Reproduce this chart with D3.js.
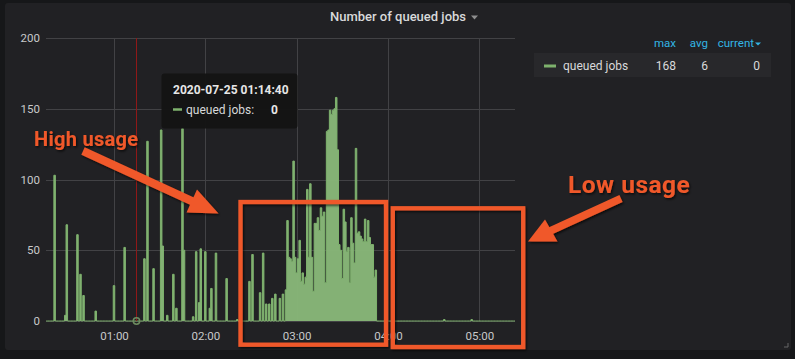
<!DOCTYPE html>
<html><head><meta charset="utf-8">
<script src="https://cdn.jsdelivr.net/npm/d3@7"></script>
<style>
html,body{margin:0;padding:0;background:#161719;}
svg{display:block;}
text{font-family:Roboto,"Noto Sans",sans-serif;}
</style></head><body>
<svg id="chart" width="795" height="359"></svg>
<script>
// ---------------- data ----------------
const day = "2020-07-25";
const chartTitle = "Number of queued jobs";
const yTicks = [0, 50, 100, 150, 200];
const xTickTimes = ["01:00", "02:00", "03:00", "04:00", "05:00"];
const spikeTimes = ["00:21","00:28","00:29","00:36","00:38","00:40","00:48","01:00","01:07","01:20",
  "01:22","01:26","01:31","01:32","01:35","01:39","01:41","01:45","01:46","01:52",
  "01:54","01:56","01:57","02:00","02:03","02:04","02:07","02:14","02:21","02:29",
  "02:31","02:36","02:38","02:40","02:42","02:44","02:46","02:49","02:51","04:37","04:55"];
const spikeValues = [103,4,68,61,33,18,7,25,52,44,
  127,37,135,53,4,33,9,136,50,3,
  49,13,51,49,9,23,48,30,1,28,
  47,20,48,12,12,16,19,16,19,1,1];
const burstStart = "02:53";   // one value per minute from here
const burstValues = [22,71,45,44,42,113,45,34,44,57,
  28,34,26,31,93,45,97,45,21,69,
  69,73,64,80,74,77,27,134,135,149,
  146,149,150,158,121,54,50,30,79,70,
  49,52,27,73,55,41,122,62,63,60,
  58,56,72,56,71,59,54,54,31,36,0];
const seriesName = "queued jobs";
const legendHeaders = ["max", "avg", "current"];
const legendValues = [168, 6, 0];
const hoverTime = "01:14:40";
const hoverValue = 0;
const annotationLabels = ["High usage", "Low usage"];

// ---------------- helpers ----------------
const parse = d3.timeParse("%Y-%m-%d %H:%M:%S");
const T = s => parse(day + " " + (s.length === 5 ? s + ":00" : s));

const valueAt = new Map();
spikeTimes.forEach((t, i) => valueAt.set(+T(t), spikeValues[i]));
const b0 = T(burstStart);
burstValues.forEach((v, i) => valueAt.set(+d3.timeMinute.offset(b0, i), v));
const grid = d3.timeMinute.range(T("00:14:00"), T("05:26:00"));
const series = grid.map(d => ({t: d, v: valueAt.has(+d) ? valueAt.get(+d) : 0}));

// ---------------- layout ----------------
const plot = {left: 46, right: 515, top: 38, bottom: 321};
const x = d3.scaleTime().domain([T("00:15:20"), T("05:23:27")]).range([plot.left, plot.right]);
const y = d3.scaleLinear().domain([0, 200]).range([plot.bottom, plot.top]);

const GREEN = "#7eb26d", FILL = "#87b678", ORANGE = "#f0592a";
const svg = d3.select("#chart");

const defs = svg.append("defs");
defs.append("clipPath").attr("id", "clip").append("rect")
  .attr("x", plot.left).attr("y", plot.top - 2).attr("width", plot.right - plot.left).attr("height", plot.bottom - plot.top + 3);
const f = defs.append("filter").attr("id", "shadow").attr("x", "-20%").attr("y", "-20%").attr("width", "140%").attr("height", "140%");
f.append("feDropShadow").attr("dx", 1.2).attr("dy", 1.5).attr("stdDeviation", 1).attr("flood-color", "#000").attr("flood-opacity", 0.7);

// panel
svg.append("rect").attr("x", 5).attr("y", 3).attr("width", 786).attr("height", 347).attr("rx", 3).attr("fill", "#212124");

// title
svg.append("text").attr("x", 330).attr("y", 21).attr("fill", "#d8d9da")
  .attr("font-size", 13).attr("font-weight", 500).text(chartTitle);
svg.append("path").attr("d", "M471,15.5 L478,15.5 L474.5,19.5 Z").attr("fill", "#8e8e8e");

// grid
svg.append("g").selectAll("line").data(yTicks).join("line")
  .attr("x1", plot.left).attr("x2", plot.right)
  .attr("y1", d => Math.round(y(d)) + 0.5).attr("y2", d => Math.round(y(d)) + 0.5)
  .attr("stroke", "#424245").attr("stroke-width", 1);
svg.append("g").selectAll("line").data(xTickTimes).join("line")
  .attr("y1", plot.top).attr("y2", plot.bottom)
  .attr("x1", d => Math.round(x(T(d))) + 0.5).attr("x2", d => Math.round(x(T(d))) + 0.5)
  .attr("stroke", "#424245").attr("stroke-width", 1);

// axes labels via d3 axes
const yAxis = svg.append("g").attr("transform", `translate(${plot.left - 6},0)`)
  .call(d3.axisLeft(y).tickValues(yTicks).tickSize(0).tickPadding(0));
const xAxis = svg.append("g").attr("transform", `translate(0,${plot.bottom + 4})`)
  .call(d3.axisBottom(x).tickValues(xTickTimes.map(T)).tickFormat(d3.timeFormat("%H:%M")).tickSize(0).tickPadding(7));
[yAxis, xAxis].forEach(a => {
  a.select(".domain").remove();
  a.selectAll("text").attr("fill", "#c8c9ca").attr("font-size", 11.5).attr("font-family", "Roboto, sans-serif");
});

// series
const g = svg.append("g").attr("clip-path", "url(#clip)");
g.append("path").datum(series)
  .attr("d", d3.area().curve(d3.curveStep).x(d => x(d.t)).y0(y(0)).y1(d => y(d.v)))
  .attr("fill", FILL).attr("fill-opacity", 0.97);
g.append("path").datum(series)
  .attr("d", d3.line().curve(d3.curveStep).x(d => x(d.t)).y(d => y(d.v)))
  .attr("fill", "none").attr("stroke", GREEN).attr("stroke-width", 1);

// crosshair
const hx = Math.round(x(T(hoverTime))) + 0.5;
svg.append("line").attr("x1", hx).attr("x2", hx).attr("y1", plot.top).attr("y2", plot.bottom)
  .attr("stroke", "#8f1818").attr("stroke-width", 1);
svg.append("circle").attr("cx", hx).attr("cy", y(hoverValue)).attr("r", 3.2)
  .attr("fill", "none").attr("stroke", "#6d8c5f").attr("stroke-width", 1.5);

// tooltip
const tip = svg.append("g");
tip.append("rect").attr("x", 161.5).attr("y", 73.5).attr("width", 136).attr("height", 55).attr("rx", 3)
  .attr("fill", "#141414").attr("fill-opacity", 0.97);
tip.append("text").attr("x", 173).attr("y", 93.5).attr("fill", "#e6e6e6").attr("font-size", 12).attr("font-weight", 700)
  .text(day + " " + hoverTime);
tip.append("line").attr("x1", 173).attr("x2", 182).attr("y1", 109.5).attr("y2", 109.5).attr("stroke", GREEN).attr("stroke-width", 2.5);
tip.append("text").attr("x", 186).attr("y", 113.5).attr("fill", "#d8d9da").attr("font-size", 12).text(seriesName + ":");
tip.append("text").attr("x", 278).attr("y", 113.5).attr("text-anchor", "end").attr("fill", "#e6e6e6")
  .attr("font-size", 12).attr("font-weight", 700).text(hoverValue);

// legend
const colRight = [676, 708, 754];
const valRight = [676, 708, 760];
const lg = svg.append("g");
lg.selectAll("text.h").data(legendHeaders).join("text").attr("class", "h")
  .attr("x", (d, i) => colRight[i]).attr("y", 47).attr("text-anchor", "end")
  .attr("fill", "#33b5e5").attr("font-size", 11.5).text(d => d);
lg.append("path").attr("d", "M755,42.5 L761,42.5 L758,45.5 Z").attr("fill", "#33b5e5");
lg.append("rect").attr("x", 534).attr("y", 53).attr("width", 237).attr("height", 24).attr("fill", "#28282b");
lg.append("line").attr("x1", 544).attr("x2", 556).attr("y1", 66).attr("y2", 66).attr("stroke", GREEN).attr("stroke-width", 3);
lg.append("text").attr("x", 563).attr("y", 69.5).attr("fill", "#d8d9da").attr("font-size", 12).text(seriesName);
lg.selectAll("text.v").data(legendValues).join("text").attr("class", "v")
  .attr("x", (d, i) => valRight[i]).attr("y", 69.5).attr("text-anchor", "end")
  .attr("fill", "#d8d9da").attr("font-size", 12).text(d => d);

// resize handle
svg.append("path").attr("d", "M784,347 L788,347 L788,343").attr("fill", "none").attr("stroke", "#666").attr("stroke-width", 1);

// annotations
const an = svg.append("g").attr("filter", "url(#shadow)");
an.append("rect").attr("x", 240.5).attr("y", 202).attr("width", 145.5).attr("height", 142.7)
  .attr("fill", "none").attr("stroke", ORANGE).attr("stroke-width", 4.3);
an.append("rect").attr("x", 392.8).attr("y", 208.3).attr("width", 130.4).attr("height", 138.7)
  .attr("fill", "none").attr("stroke", ORANGE).attr("stroke-width", 4.3);
an.append("text").attr("x", 34).attr("y", 145.5).attr("fill", ORANGE).attr("font-size", 20)
  .attr("letter-spacing", 0.3)
  .attr("font-weight", 700).attr("font-family", "'Liberation Sans', Arial, sans-serif").text(annotationLabels[0]);
an.append("text").attr("x", 568).attr("y", 193.3).attr("fill", ORANGE).attr("font-size", 24.5)
  .attr("letter-spacing", 0.5)
  .attr("font-weight", 700).attr("font-family", "'Liberation Sans', Arial, sans-serif").text(annotationLabels[1]);
an.append("line").attr("x1", 83).attr("y1", 151).attr("x2", 196).attr("y2", 203)
  .attr("stroke", ORANGE).attr("stroke-width", 8);
an.append("path").attr("d", "M186.5,212.5 L197,189.5 L218.5,213.5 Z").attr("fill", ORANGE);
an.append("line").attr("x1", 621).attr("y1", 198.5).attr("x2", 549).attr("y2", 231.5)
  .attr("stroke", ORANGE).attr("stroke-width", 7.5);
an.append("path").attr("d", "M545,219.5 L557.5,241.5 L528,241.5 Z").attr("fill", ORANGE);
</script>
</body></html>
